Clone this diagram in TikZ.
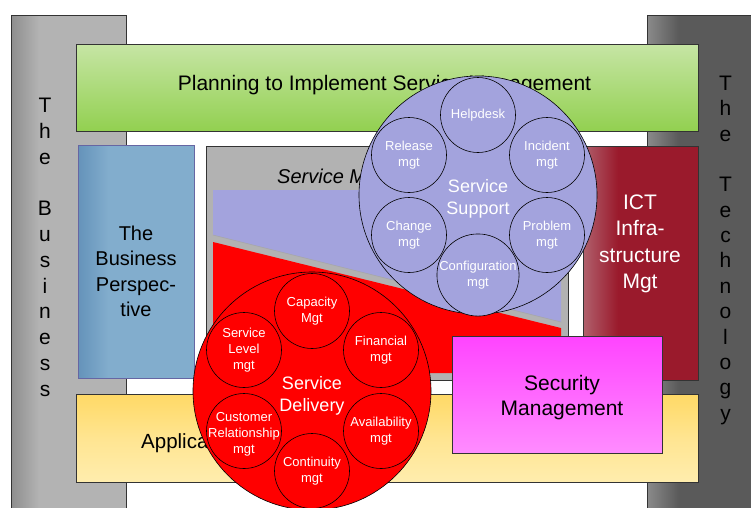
\documentclass[tikz,border=0pt]{standalone}
\usepackage{fontspec}
\setmainfont{Liberation Sans}
\definecolor{lbA}{HTML}{8E8E8E}
\definecolor{lbB}{HTML}{B3B3B3}
\definecolor{rbA}{HTML}{8A8A8A}
\definecolor{rbB}{HTML}{5A5A5A}
\definecolor{blA}{HTML}{6593BA}
\definecolor{blB}{HTML}{82ADCD}
\definecolor{icA}{HTML}{B0606C}
\definecolor{icB}{HTML}{9A1A2C}
\definecolor{grT}{HTML}{C6E5A4}
\definecolor{grB}{HTML}{92D050}
\definecolor{yeT}{HTML}{FFD966}
\definecolor{yeB}{HTML}{FFEDAE}
\definecolor{piT}{HTML}{FF44FF}
\definecolor{piB}{HTML}{FF8CFF}
\definecolor{purp}{HTML}{A3A3DD}
\definecolor{smgray}{HTML}{B2B2B2}
\definecolor{rd}{HTML}{FF0000}
\pgfdeclarehorizontalshading{lbarS}{100bp}{color(0bp)=(lbA); color(25bp)=(lbA); color(37bp)=(lbB); color(100bp)=(lbB)}
\pgfdeclarehorizontalshading{rbarS}{100bp}{color(0bp)=(rbA); color(25bp)=(rbA); color(38bp)=(rbB); color(100bp)=(rbB)}
\pgfdeclarehorizontalshading{blueS}{100bp}{color(0bp)=(blA); color(25bp)=(blA); color(38bp)=(blB); color(100bp)=(blB)}
\pgfdeclarehorizontalshading{ictS}{100bp}{color(0bp)=(icA); color(25bp)=(icA); color(40bp)=(icB); color(100bp)=(icB)}
\newcommand\myfs[2]{\fontsize{#1}{#2}\selectfont}
\begin{document}
\begin{tikzpicture}[x=1pt,y=-1pt,
  box/.style={draw=black!80, line width=0.7pt, anchor=north west, inner sep=0pt},
  big/.style={circle, draw=black, line width=0.6pt, minimum size=238pt, inner sep=0pt},
  bigtext/.style={inner sep=0pt, text=white, align=center, font=\myfs{18}{22}},
  small/.style={circle, draw=black, line width=0.6pt, minimum size=75pt, inner sep=0pt,
    text=white, align=center, font=\myfs{13}{16}},
  lett/.style={anchor=base, font=\myfs{21}{21}, inner sep=0pt},
  label/.style={inner sep=0pt, align=center, font=\myfs{21}{25.5}},
]
\clip (0,0) rectangle (751,507);
% side bars
\node[box, shade, shading=lbarS, minimum width=115pt, minimum height=520pt] (lbar) at (11,15) {};
\node[box, shade, shading=rbarS, minimum width=120pt, minimum height=520pt] (rbar) at (647,15) {};
% planning
\node[box, top color=grT, bottom color=grB, minimum width=622pt, minimum height=87pt] (plan) at (76,44) {};
% business perspective
\node[box, draw=black!60!blue!60, shade, shading=blueS, minimum width=116pt, minimum height=233pt] (bus) at (78,145) {};
% service management box
\node[box, fill=smgray, minimum width=362pt, minimum height=234pt] (sm) at (206,146) {};
\fill[purp] (213,190) -- (561,190) -- (561,322) -- (213,235) -- cycle;
\draw[black!35, line width=0.5pt] (561,322) -- (213,235);
\fill[rd] (213,242) -- (561,328) -- (561,373) -- (213,373) -- cycle;
% ICT
\node[box, shade, shading=ictS, minimum width=115pt, minimum height=234pt] (ict) at (583,146) {};
% applications
\node[box, top color=yeT, bottom color=yeB, middle color=yeB!60!yeT, minimum width=622pt, minimum height=88pt] (app) at (76,394) {};
% security
\node[box, top color=piT, bottom color=piB, minimum width=210pt, minimum height=117pt] (sec) at (452,336) {};

% texts
\node[inner sep=0pt, anchor=base, font=\myfs{21}{25}] (plant) at (384.5,90.7) {Planning to Implement Service Management};
\node[label, font=\myfs{20}{25.5}] (bust) at (136,271.5) {The\\Business\\Perspec-\\tive};
\node[inner sep=0pt, anchor=base west, font=\myfs{20}{24}\itshape] (smt) at (277,183) {Service Management};
\node[label, text=white, font=\myfs{21}{26.5}] (ictt) at (640,244) {ICT\\Infra-\\structure\\Mgt};
\node[inner sep=0pt, anchor=base west, font=\myfs{20.5}{24}] (appt) at (141,448) {Application Management};
\node[label, font=\myfs{21}{25}] (sect) at (562,397.5) {Security\\Management};

% service support
\node[big, fill=purp] (ss) at (478,195) {};
\node[bigtext] (sst) at (478,198.5) {Service\\Support};
\node[small, fill=purp] (hd) at (478,115) {Helpdesk};
\node[small, fill=purp] (rel) at (409,155) {Release\\mgt};
\node[small, fill=purp] (inc) at (547,155) {Incident\\mgt};
\node[small, fill=purp] (chg) at (409,235) {Change\\mgt};
\node[small, fill=purp] (prb) at (547,235) {Problem\\mgt};
\node[small, fill=purp] (cfg) at (478,275) {Configuration\\mgt};

% service delivery
\node[big, fill=rd] (sd) at (312,391) {};
\node[bigtext] (sdt) at (312,395.5) {Service\\Delivery};
\node[small, fill=rd] (cap) at (312,311) {Capacity\\Mgt};
\node[small, fill=rd] (slm) at (244,350) {Service\\Level\\mgt};
\node[small, fill=rd] (fin) at (381,350) {Financial\\mgt};
\node[small, fill=rd] (crm) at (244,431) {};
\node[inner sep=0pt, text=white, align=center, font=\myfs{13}{16}] (crmt) at (244,434) {Customer\\Relationship\\mgt};
\node[small, fill=rd] (ava) at (381,431) {Availability\\mgt};
\node[small, fill=rd] (con) at (312,471) {Continuity\\mgt};

% vertical letters
\foreach \l/\k in {T/0,h/1,e/2,B/4,u/5,s/6,i/7,n/8,e/9,s/10,s/11}
  \node[lett] (bl\k) at (45,{112.5+25.8*\k}) {\l};
\foreach \l/\k in {T/0,h/1,e/2,T/4,e/5,c/6,h/7,n/8,o/9,l/10,o/11,g/12,y/13}
  \node[lett] (tl\k) at (725.5,{90.5+25.35*\k}) {\l};
\end{tikzpicture}
\end{document}
